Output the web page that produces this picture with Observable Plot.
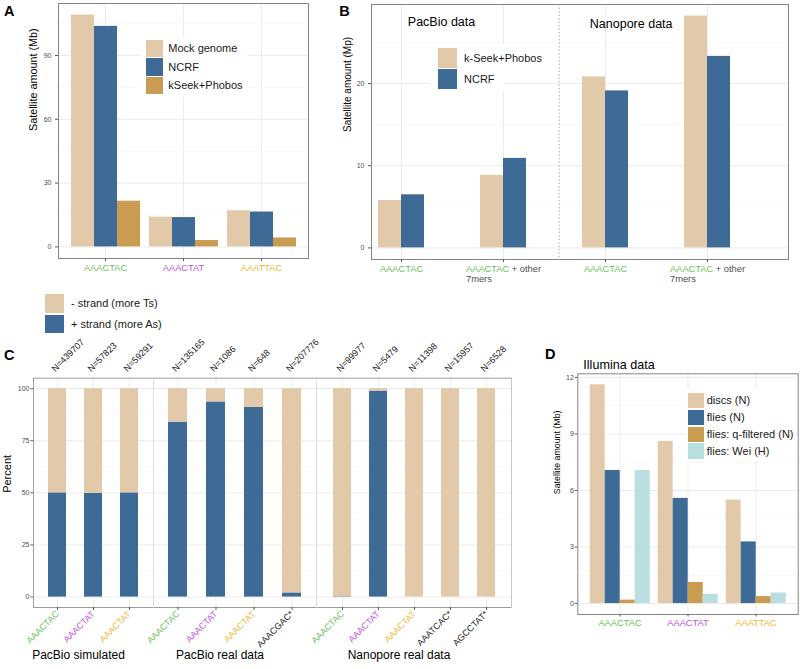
<!DOCTYPE html>
<html><head><meta charset="utf-8">
<script src="https://cdn.jsdelivr.net/npm/d3@7"></script>
<script src="https://cdn.jsdelivr.net/npm/@observablehq/plot@0.6"></script>
<style>
body{margin:0;background:#fff;font-family:"Liberation Sans",Arial,Helvetica,sans-serif;}
#root{position:relative;width:800px;height:669px;overflow:hidden;background:#fff;}
</style></head><body><div id="root"></div>
<script>
// ---------------- data ----------------
// Panel A
const catsA = ["AAACTAC", "AAACTAT", "AAATTAC"];
const seriesA = ["Mock genome", "NCRF", "kSeek+Phobos"];
const mockA = [109, 14.0, 17.0];
const ncrfA = [103.7, 13.8, 16.4];
const kseekA = [21.5, 3.0, 4.2];
const majorA = [0, 30, 60, 90];
const minorA = [15, 45, 75, 105];

// Panel B
const platformsB = ["PacBio", "PacBio", "Nanopore", "Nanopore"];
const tickMainB = ["AAACTAC", "AAACTAC", "AAACTAC", "AAACTAC"];
const tickRestB = ["", " + other", "", " + other"];
const tickLine2B = ["", "7mers", "", "7mers"];
const seriesB = ["k-Seek+Phobos", "NCRF"];
const kseekB = [5.77, 8.82, 20.8, 28.2];
const ncrfB = [6.46, 10.89, 19.1, 23.3];
const majorB = [0, 10, 20];
const minorB = [5, 15, 25];
const platformTitlesB = ["PacBio data", "Nanopore data"];

// Panel C
const groupsC = ["PacBio simulated", "PacBio real data", "Nanopore real data"];
const groupOfC = [0, 0, 0, 1, 1, 1, 1, 2, 2, 2, 2, 2];
const labelsC = ["AAACTAC", "AAACTAT", "AAACTAT", "AAACTAC", "AAACTAT", "AAACTAT", "AAACGAC*",
                 "AAACTAC", "AAACTAT", "AAACTAT", "AAATCAC*", "AGCCTAT*"];
const motifC = ["g", "p", "y", "g", "p", "y", "k", "g", "p", "y", "k", "k"];
const nC = [439707, 57823, 59291, 135165, 1086, 648, 207776, 99977, 5479, 11398, 15957, 6528];
const plusC = [50, 49.7, 50, 83.9, 93.6, 91.0, 2.0, 0.2, 98.8, 0, 0, 0]; // % + strand
const strandsC = ["- strand (more Ts)", "+ strand (more As)"];
const majorC = [0, 25, 50, 75, 100];
const minorC = [12.5, 37.5, 62.5, 87.5];
const PERCENT_TOTAL = 100;

// Panel D
const catsD = ["AAACTAC", "AAACTAT", "AAATTAC"];
const seriesD = ["discs (N)", "flies (N)", "flies: q-filtered (N)", "flies: Wei (H)"];
const discsD = [11.61, 8.6, 5.49];
const fliesD = [7.06, 5.58, 3.27];
const qfD = [0.18, 1.12, 0.37];
const weiD = [7.06, 0.49, 0.56];
const majorD = [0, 3, 6, 9, 12];
const minorD = [1.5, 4.5, 7.5, 10.5];

// ---------------- style ----------------
const FONT = '"Liberation Sans", Arial, Helvetica, sans-serif';
const C_TAN = "#E2C9A9", C_BLUE = "#3E6A96", C_GOLD = "#C99C52", C_CYAN = "#B8DEE0";
const motifColor = {g: "#6CBF5B", p: "#BE55E0", y: "#F2B733", k: "#222222"};
const GRID = "#EBEBEB", MINOR = "#F4F4F4", FRAME = "#858585", FRAME_C = "#9C9C9C", TICK = "#5A5A5A", TXT = "#4D4D4D";
const ST = `background:none;overflow:visible;font-family:${FONT};font-size:10px;max-width:none;`;

const root = document.getElementById("root");
function place(node, left, top) {
  const d = document.createElement("div");
  d.style.cssText = `position:absolute;left:${left}px;top:${top}px;`;
  d.appendChild(node);
  root.appendChild(d);
  return node;
}
function yExtent(vals) { const m = d3.max(vals); return [-0.05 * m, 1.05 * m]; }
function htmlText(str, left, capCenter, fs, opts = {}) {
  const d = document.createElement("div");
  d.textContent = str;
  d.style.cssText = `position:absolute;left:${left}px;top:${capCenter - 0.488 * fs}px;font-size:${fs}px;line-height:${fs}px;white-space:nowrap;font-weight:${opts.bold ? "bold" : "normal"};color:${opts.color || "#1a1a1a"};font-family:${FONT};`;
  root.appendChild(d);
}
function legend(o) {
  const box = document.createElement("div");
  box.style.cssText = `position:absolute;left:${o.left}px;top:${o.top}px;width:${o.w}px;height:${o.h}px;background:#fff;`;
  root.appendChild(box);
  o.items.forEach((it, i) => {
    const y = o.sy + i * o.pitch;
    const s = document.createElement("div");
    s.style.cssText = `position:absolute;left:${o.sx}px;top:${y}px;width:${o.sw}px;height:${o.sh}px;background:${it.color};`;
    root.appendChild(s);
    htmlText(it.label, o.tx, y + o.sh / 2, o.fs);
  });
}

// ---------------- grouped bar panels (A, B, D) ----------------
function groupedPanel(o) {
  const data = o.cats.flatMap((c, i) => o.series.map((s, j) => ({cat: c, series: s, value: o.values[j][i], color: o.colors[j]})));
  const yDom = yExtent(o.values.flat());
  const base = {width: o.width, height: o.height, marginLeft: o.ml, marginRight: o.mr, marginTop: o.mt, marginBottom: o.mb,
                style: ST, color: {type: "identity"}};
  const bg = Plot.plot({...base,
    x: {type: "band", domain: o.cats, ...o.band, axis: null},
    y: {domain: yDom, axis: null},
    marks: [
      Plot.ruleY(o.minor, {stroke: MINOR, strokeWidth: 0.6}),
      Plot.ruleY(o.major, {stroke: GRID, strokeWidth: 1}),
      Plot.ruleX(o.cats, {stroke: GRID}),
      ...(o.under || []),
      Plot.frame({stroke: FRAME}),
      Plot.axisY(o.major, {tickSize: o.ts, tickPadding: o.tp, fontSize: 7, stroke: TICK, fill: TXT, label: null}),
      Plot.axisX({tickSize: o.ts, tickFormat: () => "", stroke: TICK, label: null}),
      Plot.text(o.cats, {x: d => d, text: (d, i) => o.tickText[i], fill: (d, i) => o.tickColors[i],
                         frameAnchor: "bottom", dy: o.tickDy, fontSize: 9.3}),
      Plot.text([o.yTitle], {text: d => d, frameAnchor: "left", dx: o.yTitleDx, rotate: -90, fontSize: o.yTitleFs, fill: "#000"}),
      ...(o.over || [])
    ]});
  const fg = Plot.plot({...base,
    fx: {domain: o.cats, ...o.band, axis: null, label: null},
    x: {domain: o.series, padding: 0, axis: null},
    y: {domain: yDom, axis: null},
    marks: [Plot.barY(data, {fx: "cat", x: "series", y: "value", fill: "color"})]});
  place(bg, o.left, o.top);
  place(fg, o.left, o.top);
  return bg;
}

// Panel A
const colorsA = [C_TAN, C_BLUE, C_GOLD];
groupedPanel({left: 0, top: 0, width: 320, height: 290, ml: 58, mr: 12, mt: 3, mb: 32,
  cats: catsA, series: seriesA, values: [mockA, ncrfA, kseekA], colors: colorsA,
  band: {paddingInner: 0.1, paddingOuter: 0.15}, major: majorA, minor: minorA, ts: 3, tp: 4,
  tickText: catsA, tickColors: ["g", "p", "y"].map(k => motifColor[k]), tickDy: 12,
  yTitle: "Satellite amount (Mb)", yTitleDx: -25, yTitleFs: 10.8});

// Panel B
const keysB = platformsB.map((p, i) => p + " " + tickMainB[i] + tickRestB[i]);
const colorsB = [C_TAN, C_BLUE];
const svgB = groupedPanel({left: 330, top: 0, width: 470, height: 290, ml: 41, mr: 12, mt: 4, mb: 31,
  cats: keysB, series: seriesB, values: [kseekB, ncrfB], colors: colorsB,
  band: {paddingInner: 0.553, paddingOuter: 0.32, align: 0.105}, major: majorB, minor: minorB, ts: 3, tp: 4,
  tickText: tickMainB.map((m, i) => m + tickRestB[i]),
  tickColors: tickRestB.map(r => r ? TXT : motifColor.g), tickDy: 12,
  yTitle: "Satellite amount (Mp)", yTitleDx: -24, yTitleFs: 10,
  under: [Plot.ruleX([keysB[2]], {dx: -46.4, stroke: "#9A9A9A", strokeDasharray: "1.5,2", strokeWidth: 0.8})],
  over: [
    Plot.text([platformTitlesB[0]], {x: () => keysB[0], text: d => d, frameAnchor: "top", dy: 13, dx: 6.3, textAnchor: "start", fontSize: 12.5, fill: "#000"}),
    Plot.text([platformTitlesB[1]], {x: () => keysB[2], text: d => d, frameAnchor: "top", dy: 15, dx: -15.7, textAnchor: "start", fontSize: 12.5, fill: "#000"})
  ]});

// recolor / wrap compound tick labels of panel B
svgB.querySelectorAll("text").forEach(t => {
  const s = t.textContent;
  tickMainB.forEach((m, i) => {
    if (!tickRestB[i] || s !== m + tickRestB[i] || t.dataset.done) return;
    t.dataset.done = "1";
    const w = t.getComputedTextLength();
    const x0 = t.getAttribute("x") || 0;
    t.setAttribute("text-anchor", "start");
    t.setAttribute("transform", (t.getAttribute("transform") || "") + ` translate(${-w / 2},0)`);
    t.textContent = "";
    const ns = "http://www.w3.org/2000/svg";
    const a = document.createElementNS(ns, "tspan"); a.textContent = m; a.setAttribute("fill", motifColor.g);
    const b = document.createElementNS(ns, "tspan"); b.textContent = tickRestB[i]; b.setAttribute("fill", TXT);
    const c = document.createElementNS(ns, "tspan"); c.textContent = tickLine2B[i]; c.setAttribute("fill", TXT);
    c.setAttribute("x", x0); c.setAttribute("dy", "1.15em");
    t.appendChild(a); t.appendChild(b); t.appendChild(c);
  });
});

// Panel D
const colorsD = [C_TAN, C_BLUE, C_GOLD, C_CYAN];
groupedPanel({left: 540, top: 330, width: 260, height: 339, ml: 37.3, mr: 2.3, mt: 43.3, mb: 55,
  cats: catsD, series: seriesD, values: [discsD, fliesD, qfD, weiD], colors: colorsD,
  band: {paddingInner: 0.1, paddingOuter: 0.164}, major: majorD, minor: minorD, ts: 2.5, tp: 1.5,
  tickText: catsD, tickColors: ["g", "p", "y"].map(k => motifColor[k]), tickDy: 11,
  yTitle: "Satellite amount (Mb)", yTitleDx: -20.6, yTitleFs: 8.8});

// ---------------- Panel C ----------------
function panelC(g, left, frameW, po) {
  const rows = d3.range(labelsC.length).filter(i => groupOfC[i] === g).map(i => ({
    key: String(i), label: labelsC[i], n: nC[i], plus: plusC[i], color: motifColor[motifC[i]]}));
  const ml = 33, mr = 30;
  const marks = [
    Plot.ruleY(minorC, {stroke: MINOR, strokeWidth: 0.6}),
    Plot.ruleY(majorC, {stroke: GRID}),
    Plot.ruleX(rows, {x: "key", stroke: GRID}),
    Plot.barY(rows, {x: "key", y1: 0, y2: "plus", fill: C_BLUE}),
    Plot.barY(rows, {x: "key", y1: "plus", y2: PERCENT_TOTAL, fill: C_TAN}),
    Plot.frame({anchor: "top", stroke: FRAME_C}),
    Plot.frame({anchor: "bottom", stroke: FRAME_C}),
    Plot.axisX({tickSize: 3, tickFormat: () => "", stroke: TICK, label: null}),
    Plot.text(rows, {x: "key", text: "label", fill: "color", frameAnchor: "bottom", rotate: -45, textAnchor: "end", dy: 7, dx: 2, fontSize: 9}),
    Plot.text(rows, {x: "key", text: d => "N=" + d.n, fill: "#1a1a1a", frameAnchor: "top", rotate: -45, textAnchor: "start", dy: -10.5, dx: -6.8, fontSize: 9}),
    Plot.text([groupsC[g]], {text: d => d, frameAnchor: "bottom", dy: 51, dx: -15, fontSize: 12, fill: "#000"})
  ];
  if (g === 0) {
    marks.push(Plot.frame({anchor: "left", stroke: FRAME_C}));
    marks.push(Plot.axisY(majorC, {tickSize: 2.5, tickPadding: 1.5, fontSize: 7, stroke: TICK, fill: TXT, label: null}));
    marks.push(Plot.text(["Percent"], {text: d => d, frameAnchor: "left", dx: -26, rotate: -90, fontSize: 11, fill: "#000"}));
  } else {
    marks.push(Plot.frame({anchor: "left", stroke: "#DDDDDD"}));
  }
  if (g === 2) marks.push(Plot.frame({anchor: "right", stroke: "#C8C8C8"}));
  const p = Plot.plot({width: ml + frameW + mr, height: 339, marginLeft: ml, marginRight: mr, marginTop: 47.7, marginBottom: 62,
    style: ST, color: {type: "identity"},
    x: {type: "band", domain: rows.map(r => r.key), paddingInner: 0.5, paddingOuter: po, axis: null},
    y: {domain: yExtent([PERCENT_TOTAL]), axis: null},
    marks});
  place(p, left - ml, 330);
}
panelC(0, 33, 120, 0.375);
panelC(1, 153, 163, 0.375);
panelC(2, 316, 195, 0.415);

// ---------------- legends & labels ----------------
legend({left: 140, top: 37, w: 107, h: 60, sx: 145.7, sy: 40, sw: 17.6, sh: 17.4, pitch: 18.3, tx: 168.3, fs: 11,
  items: seriesA.map((s, i) => ({label: s, color: colorsA[i]}))});
legend({left: 430, top: 44, w: 75, h: 48, sx: 438, sy: 48.3, sw: 19, sh: 19.5, pitch: 21, tx: 464, fs: 11,
  items: seriesB.map((s, i) => ({label: s, color: colorsB[i]}))});
legend({left: 40, top: 290, w: 130, h: 46, sx: 45, sy: 294, sw: 19.3, sh: 18.7, pitch: 20.7, tx: 71, fs: 11,
  items: strandsC.map((s, i) => ({label: s, color: [C_TAN, C_BLUE][i]}))});
legend({left: 684, top: 389, w: 112, h: 72, sx: 688.3, sy: 392.7, sw: 16, sh: 15.3, pitch: 16.9, tx: 706.7, fs: 11,
  items: seriesD.map((s, i) => ({label: s, color: colorsD[i]}))});

htmlText("A", 4, 11.3, 14.5, {bold: true, color: "#000"});
htmlText("B", 339.3, 11.3, 14.5, {bold: true, color: "#000"});
htmlText("C", 4, 354.7, 14.5, {bold: true, color: "#000"});
htmlText("D", 545, 354.2, 14.5, {bold: true, color: "#000"});
htmlText("Illumina data", 583.3, 365, 12.6, {color: "#000"});
</script></body></html>
